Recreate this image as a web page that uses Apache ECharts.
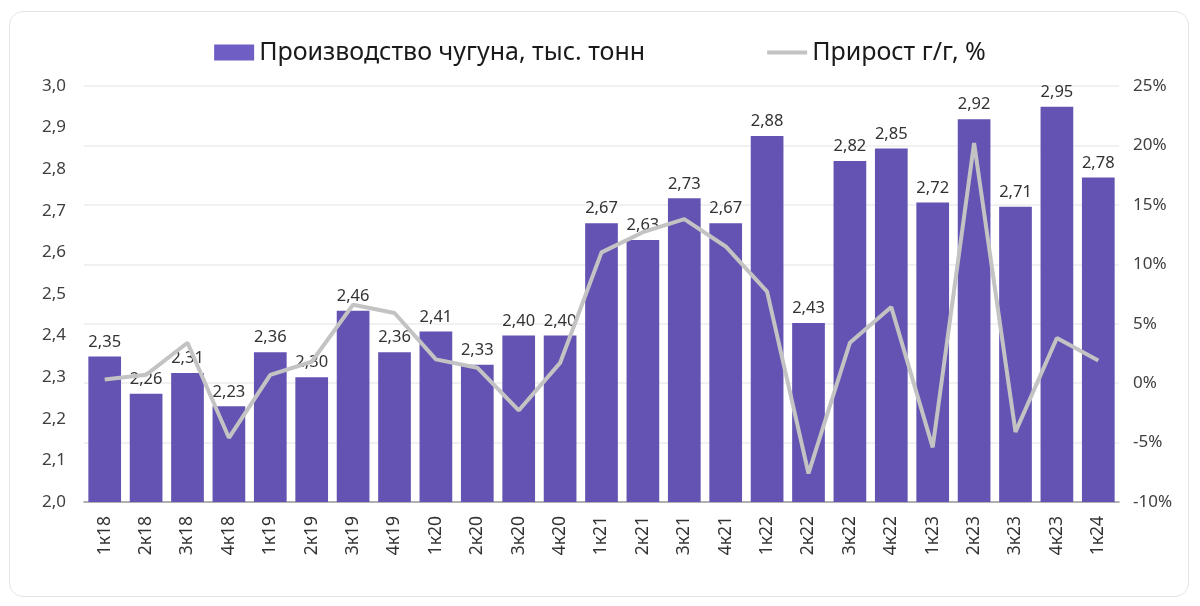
<!DOCTYPE html>
<html>
<head>
<meta charset="utf-8">
<script src="https://cdn.jsdelivr.net/npm/echarts@6/dist/echarts.min.js"></script>
<style>
  html,body{margin:0;padding:0;background:#fff;}
  #card{position:absolute;left:9px;top:11px;width:1180px;height:586px;border:1px solid #e4e4e4;border-radius:14px;box-sizing:border-box;}
  #chart{position:absolute;left:0;top:0;width:1200px;height:606px;}
</style>
</head>
<body>
<div id="card"></div>
<div id="chart"></div>
<script>
const categories = ['1к18','2к18','3к18','4к18','1к19','2к19','3к19','4к19','1к20','2к20','3к20','4к20','1к21','2к21','3к21','4к21','1к22','2к22','3к22','4к22','1к23','2к23','3к23','4к23','1к24'];
const production = [2.35,2.26,2.31,2.23,2.36,2.30,2.46,2.36,2.41,2.33,2.40,2.40,2.67,2.63,2.73,2.67,2.88,2.43,2.82,2.85,2.72,2.92,2.71,2.95,2.78];
const growth = [0.3,0.7,3.4,-4.6,0.7,1.8,6.6,5.9,2.0,1.3,-2.3,1.7,11.0,12.7,13.8,11.5,7.7,-7.6,3.4,6.4,-5.4,20.2,-4.1,3.8,1.9];
const leftTicks = {min:2.0, max:3.0, interval:0.1};
const rightTicks = {min:-10, max:25, interval:5};
const seriesNames = ['Производство чугуна, тыс. тонн','Прирост г/г, %'];

const font = '"Noto Sans", "DejaVu Sans", sans-serif';
const chart = echarts.init(document.getElementById('chart'), null, {renderer:'canvas'});
chart.setOption({
  animation:false,
  textStyle:{fontFamily:font},
  legend:{
    top:35, left:'center',
    itemWidth:40, itemHeight:16, itemGap:122,
    textStyle:{fontSize:25, color:'#1a1a1a', fontFamily:font},
    data:[
      {name:seriesNames[0], icon:'rect', itemStyle:{color:'#6f5ec4'}},
      {name:seriesNames[1], icon:'path://M0,0 L46,0 L46,4.5 L0,4.5 Z', symbolKeepAspect:true, itemStyle:{color:'#c3c3c3'}}
    ]
  },
  grid:{left:84, right:81, top:86, bottom:104},
  xAxis:{
    type:'category', data:categories,
    axisLine:{onZero:false, lineStyle:{color:'#9a9a9a', width:1.5}},
    axisTick:{show:false},
    axisLabel:{rotate:90, fontSize:17.5, color:'#333', margin:14, fontFamily:font}
  },
  yAxis:[
    {type:'value', min:leftTicks.min, max:leftTicks.max, interval:leftTicks.interval,
     splitLine:{show:false}, axisLine:{show:false}, axisTick:{show:false},
     axisLabel:{fontSize:17, color:'#404040', margin:18, fontFamily:font,
       formatter:v=>v.toFixed(1).replace('.',',')}},
    {type:'value', min:rightTicks.min, max:rightTicks.max, interval:rightTicks.interval,
     splitLine:{show:true, lineStyle:{color:'#ececec', width:1.5}},
     axisLine:{show:false}, axisTick:{show:false},
     axisLabel:{fontSize:17, color:'#404040', margin:14, fontFamily:font,
       formatter:v=>v+'%'}}
  ],
  series:[
    {name:seriesNames[0], type:'bar', data:production, yAxisIndex:0,
     barCategoryGap:'21%',
     itemStyle:{color:'#6553b3'},
     label:{show:true, position:'top', distance:6, fontSize:16.5, color:'#333', fontFamily:font,
       formatter:p=>p.value.toFixed(2).replace('.',',')}},
    {name:seriesNames[1], type:'line', data:growth, yAxisIndex:1,
     symbol:'none', z:5,
     lineStyle:{color:'#c3c3c3', width:4},
     itemStyle:{color:'#c3c3c3'}}
  ]
});
</script>
</body>
</html>
